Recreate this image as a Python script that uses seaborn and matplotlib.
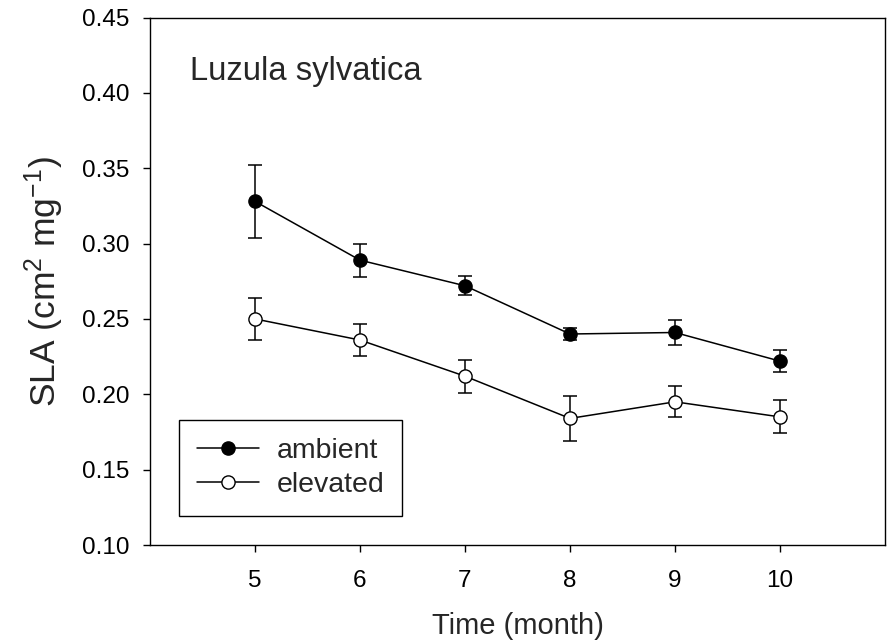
import numpy as np
import pandas as pd
import matplotlib
matplotlib.use("Agg")
import matplotlib.pyplot as plt
import seaborn as sns

# Specific leaf area of Luzula sylvatica over the season (mean ± SE)
months = [5, 6, 7, 8, 9, 10]
ambient_mean = [0.328, 0.289, 0.272, 0.240, 0.241, 0.222]
ambient_se = [0.024, 0.011, 0.0064, 0.0043, 0.0085, 0.0074]
elevated_mean = [0.250, 0.236, 0.212, 0.184, 0.195, 0.185]
elevated_se = [0.0138, 0.0104, 0.011, 0.015, 0.0102, 0.011]
y_ticks = [0.10, 0.15, 0.20, 0.25, 0.30, 0.35, 0.40, 0.45]

sns.set_style("ticks")
plt.rcParams["font.family"] = ["Liberation Sans", "DejaVu Sans"]
plt.rcParams["mathtext.fontset"] = "custom"
plt.rcParams["mathtext.rm"] = "Liberation Sans"
plt.rcParams["mathtext.it"] = "Liberation Sans"

df = pd.DataFrame({
    "month": months * 2,
    "sla": ambient_mean + elevated_mean,
    "se": ambient_se + elevated_se,
    "treatment": ["ambient"] * len(months) + ["elevated"] * len(months),
})

fig = plt.figure(figsize=(8.89, 6.44), dpi=100)
ax = fig.add_axes([150 / 889, 1 - 545 / 644, 735 / 889, 527.5 / 644])

faces = {"ambient": "black", "elevated": "white"}
for name, face in faces.items():
    sub = df[df["treatment"] == name]
    ax.errorbar(sub["month"], sub["sla"], yerr=sub["se"], fmt="none",
                ecolor="black", elinewidth=1.1, capsize=5, capthick=1.1, zorder=2)
    sns.lineplot(data=sub, x="month", y="sla", ax=ax, color="black",
                 linewidth=1.1, marker="o", markersize=9.5,
                 markerfacecolor=face, markeredgecolor="black",
                 markeredgewidth=1.0, label=name, zorder=3)

ax.set_xlim(4, 11)
ax.set_ylim(0.10, 0.45)
ax.set_xticks(months)
ax.set_yticks(y_ticks)
ax.set_yticklabels([f"{v:.2f}" for v in y_ticks])

for side in ["top", "right", "bottom", "left"]:
    ax.spines[side].set_visible(True)
    ax.spines[side].set_linewidth(1.0)
    ax.spines[side].set_color("black")

ax.tick_params(axis="both", direction="out", length=5, width=1.0,
               labelsize=17.5, colors="black")
ax.tick_params(axis="x", pad=13)
ax.tick_params(axis="y", pad=9.5)
ax.tick_params(top=False, right=False)

ax.set_xlabel("Time (month)", fontsize=21, labelpad=14.5)
ax.set_ylabel(r"SLA (cm$^{2}$ mg$^{-1}$)", fontsize=25.5, labelpad=12)

ax.text(0.054, 0.8815, "Luzula sylvatica", transform=ax.transAxes,
        fontsize=23.6, ha="left", va="baseline")

leg = ax.legend(loc="lower left", bbox_to_anchor=(29 / 735, 29 / 527.5),
                fontsize=20.5, frameon=True, fancybox=False, edgecolor="black",
                framealpha=1, handlelength=2.2, handletextpad=0.6,
                borderpad=0.62, labelspacing=0.3, borderaxespad=0)
leg.get_frame().set_linewidth(1.0)

fig.savefig("out.png", dpi=100)
